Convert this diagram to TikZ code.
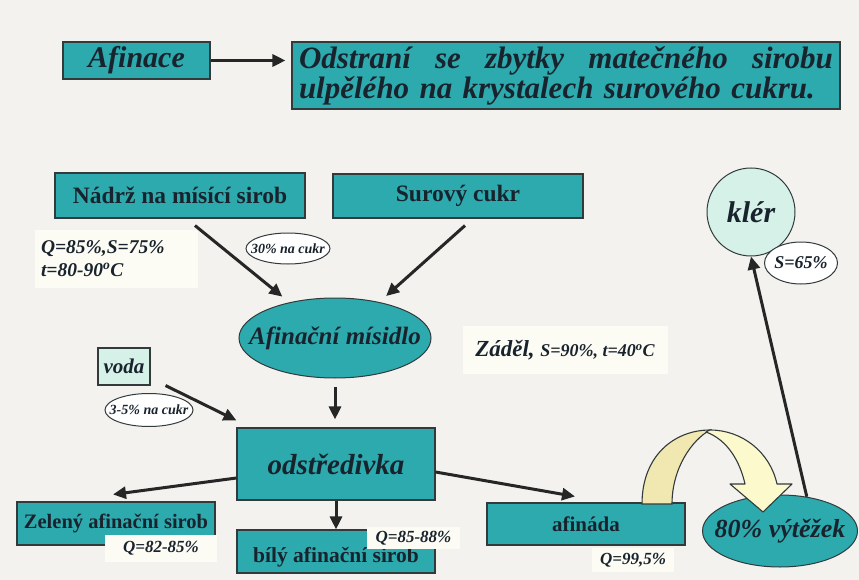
\documentclass[tikz,border=0pt]{standalone}
\usepackage{fontspec}
\setmainfont{Liberation Serif}
\usetikzlibrary{arrows.meta,shapes.geometric}
\definecolor{paper}{RGB}{243,242,238}
\definecolor{cyanbox}{RGB}{44,170,174}
\definecolor{mint}{RGB}{214,242,232}
\definecolor{edge}{RGB}{50,58,60}
\definecolor{ink}{RGB}{25,35,45}
\definecolor{tagbg}{RGB}{252,252,244}
\definecolor{backyel}{RGB}{240,232,176}
\definecolor{frontyel}{RGB}{252,249,204}
\newcommand\fsz[1]{\fontsize{#1}{#1}\selectfont}
\begin{document}
\begin{tikzpicture}[x=1pt, y=-1pt,
	box/.style = {draw=edge, line width=1.1pt, fill=cyanbox, text=ink, inner sep=0pt},
	tag/.style = {fill=tagbg, text=ink, inner sep=0pt},
	oval/.style = {ellipse, draw=edge, line width=1pt, fill=white, text=ink, inner sep=0pt,
		execute at begin node={\hbox to 0pt\bgroup\hss}, execute at end node={\hss\egroup}},
	flow/.style = {draw=black!85, line width=3pt, -{Triangle[length=13pt, width=12pt]}}]
	\fill[paper] (0,0) rectangle (859,580);
	\useasboundingbox (0,0) rectangle (859,580);

	\node[box, minimum width=147pt, minimum height=37pt, font=\fsz{30}\bfseries\itshape] (afinace) at (136.5,60.5) {Afinace};
	\node[box, minimum width=548pt, minimum height=67pt, text width=534pt, align=left, font=\fontsize{31}{30}\selectfont\bfseries\itshape] (popis) at (566,75.5)
		{Odstraní\hfill se\hfill zbytky\hfill matečného\hfill sirobu\\ ulpělého na krystalech surového cukru.};
	\draw[flow, shorten >=6pt] (afinace.east) -- (afinace.east -| popis.west);

	\node[box, minimum width=250pt, minimum height=45pt, font=\fsz{23.5}\bfseries] (nadrz) at (180,195.5) {Nádrž na mísící sirob};
	\node[box, minimum width=250pt, minimum height=44pt, font=\fsz{23.5}\bfseries] (surovy) at (458,196) {Surový cukr};
	\node[tag, minimum width=163pt, minimum height=58pt, text width=150pt, align=left, font=\fontsize{19.5}{23}\selectfont\bfseries\itshape] (qnadrz) at (116,259)
		{Q=85\%,S=75\%\\ t=80-90\textsuperscript{o}C};
	\node[oval, minimum width=84pt, minimum height=31pt, font=\fsz{14}\bfseries\itshape] (pct30) at (288,248.5) {30\% na cukr};
	\node[oval, fill=cyanbox, minimum width=192pt, minimum height=80pt, font=\fsz{25}\bfseries\itshape] (misidlo) at (335,338) {Afinační mísidlo};
	\node[tag, minimum width=205pt, minimum height=48pt, font=\bfseries\itshape] (zadel) at (565,350) {\fsz{23}Záděl, \fsz{18}S=90\%, t=40\textsuperscript{o}C};
	\draw[flow, shorten >=9pt] ([shift={(15pt,-7pt)}]nadrz.south) -- (misidlo.142);
	\draw[flow, shorten >=9pt] ([shift={(7pt,-7pt)}]surovy.south) -- (misidlo.39);

	\node[circle, draw=edge, line width=1pt, fill=mint, minimum size=88pt, inner sep=0pt, text=ink, font=\fsz{30}\bfseries\itshape] (kler) at (751,212) {klér};
	\node[oval, minimum width=73pt, minimum height=42pt, font=\fsz{18}\bfseries\itshape] (s65) at (801,263) {S=65\%};

	\node[box, fill=mint, minimum width=52pt, minimum height=37pt, font=\fsz{21}\bfseries\itshape] (voda) at (124,366.5) {voda};
	\node[oval, minimum width=88pt, minimum height=33pt, font=\fsz{14}\bfseries\itshape] (pct35) at (149,410) {3-5\% na cukr};
	\node[box, minimum width=198pt, minimum height=72pt, font=\fsz{29}\bfseries\itshape] (odstr) at (336,464) {odstředivka};
	\draw[flow] ([xshift=15pt]voda.south east) -- ([yshift=7pt]odstr.north west);
	\draw[flow, shorten <=8pt, shorten >=8pt] (misidlo.south) -- (misidlo.south |- odstr.north);

	\node[box, minimum width=198pt, minimum height=43pt, font=\fsz{20.5}\bfseries] (zeleny) at (116,523.5) {Zelený afinační sirob};
	\node[box, minimum width=198pt, minimum height=43pt, text height=21pt, text depth=0pt, font=\fsz{21.5}\bfseries] (bily) at (336,551.5) {bílý afinační sirob};
	\node[box, minimum width=198pt, minimum height=42pt, font=\fsz{21}\bfseries] (afinada) at (586,524) {afináda};
	\node[oval, fill=cyanbox, minimum width=155pt, minimum height=72pt, font=\fsz{26}\bfseries\itshape] (vytezek) at (780,531) {80\% výtěžek};
	\node[tag, minimum width=112pt, minimum height=27pt, font=\fsz{17}\bfseries\itshape] (qzel) at (161,548.5) {Q=82-85\%};
	\node[tag, minimum width=93pt, minimum height=22pt, font=\fsz{17}\bfseries\itshape] (qbil) at (413.5,538) {Q=85-88\%};
	\node[tag, minimum width=82pt, minimum height=24pt, font=\fsz{17}\bfseries\itshape] (qaf) at (633,560) {Q=99,5\%};

	\draw[flow] ([yshift=-14pt]odstr.west) -- ([shift={(-3pt,7pt)}]zeleny.north);
	\draw[flow] (odstr.south) -- (bily.north);
	\draw[flow] ([yshift=-8pt]odstr.east) -- ([shift={(-11pt,6pt)}]afinada.north);
	\draw[flow] (vytezek.52) -- (kler.south);

	% bent yellow arrow afinada -> vytezek
	\draw[draw=edge, line width=1.1pt, fill=backyel] (642,504) .. controls (642,455) and (675,430) .. (710,430)
		.. controls (692,440) and (672,468) .. (672,504) -- cycle;
	\draw[draw=edge, line width=1.1pt, fill=frontyel, line join=round] (710,430) .. controls (742,430) and (770,452) .. (777,484)
		-- (792,484) -- (763,512) -- (730,484) -- (745,484) .. controls (740,462) and (728,440) .. (706,432) -- cycle;
\end{tikzpicture}
\end{document}
